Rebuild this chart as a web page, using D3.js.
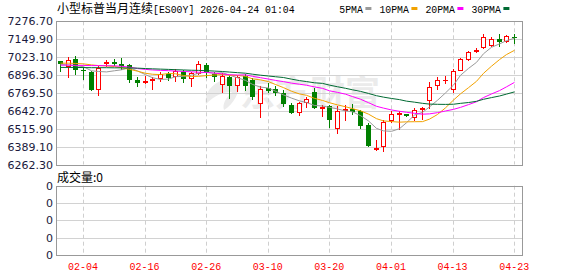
<!DOCTYPE html>
<html><head><meta charset="utf-8">
<script src="https://cdn.jsdelivr.net/npm/d3@7"></script>
<style>html,body{margin:0;padding:0;background:#fff;overflow:hidden}</style>
</head><body><svg id="c" width="578" height="276"></svg>
<script>
const dates=["01-30","02-02","02-03","02-04","02-05","02-06","02-09","02-10","02-11","02-12","02-13","02-16","02-17","02-18","02-19","02-20","02-23","02-24","02-25","02-26","02-27","03-02","03-03","03-04","03-05","03-06","03-09","03-10","03-11","03-12","03-13","03-16","03-17","03-18","03-19","03-20","03-23","03-24","03-25","03-26","03-27","03-30","03-31","04-01","04-02","04-03","04-06","04-07","04-08","04-09","04-10","04-13","04-14","04-15","04-16","04-17","04-20","04-21","04-22","04-23"];
const openV=[6994.9,6954.8,7006.9,6935,6919.6,6792.8,6971.7,6985.8,6973.8,6966.8,6861.1,6849,6856.2,6870.3,6901.2,6884.4,6917.5,6866,6906.9,6966.8,6906.9,6825.9,6884.4,6816.7,6889.3,6861.1,6689.9,6801.2,6795.6,6767.4,6685,6626.5,6701.2,6778.7,6661.8,6678,6516,6639.2,6653.3,6637.8,6544.1,6371.5,6389.1,6567.4,6621.6,6619.5,6589.9,6653.3,6715.3,6818.8,6859,6787.1,6926.6,7002,7061.9,7084.4,7102.7,7154.8,7130.9,7166];
const highV=[6998,7021,7030.2,6950,6928,6959.7,7005.5,7009,7014,6977.3,6878.7,6889,6884.4,6921,6917.5,6938.6,6931.5,6921,6995,6978.7,6919.6,6908.3,6896.3,6892.8,6906.9,6873.1,6816.7,6842.1,6818.8,6788.5,6697,6708.3,6739.3,6802.6,6685,6685,6678,6681.5,6688.5,6649.8,6556.1,6438.5,6575.8,6637.8,6639.2,6621.6,6661.8,6673,6849.1,6880.1,6889.3,6938.6,7014,7067.5,7090,7190.1,7166.1,7185.1,7178,7185.1];
const lowV=[6919.6,6873.1,6896.3,6858,6783.6,6748.4,6952.7,6959.7,6931.5,6842.1,6813.9,6833,6790.7,6847,6850.5,6847,6840,6811.8,6892.8,6873.1,6849,6771.6,6725.2,6778.7,6783.6,6716.7,6589.9,6767.4,6748.4,6673,6621.6,6607.5,6663.9,6656.8,6600.5,6520.9,6478.6,6568.8,6614.6,6514,6387,6357.4,6353.9,6556.1,6504,6600.5,6572.3,6579.3,6656.8,6790.7,6833,6771.6,6922.4,6994.9,7051.3,7077.4,7093.6,7091.4,7123.8,7114.7];
const closeV=[6971.7,7004.1,6935.1,6928,6790.7,6949.2,6987.9,6975.9,6961.8,6861.1,6840,6854,6868.1,6901.2,6873.1,6925.9,6864.6,6908.3,6973.8,6910.4,6882.2,6889.3,6818.8,6882.2,6818.8,6739.3,6795.6,6783.6,6769.5,6688.5,6626.5,6697,6725.2,6666,6668.8,6579.3,6640.6,6653.3,6635.7,6532.2,6392.7,6376.5,6565.3,6619.5,6626.5,6602.6,6649.8,6659,6813.9,6861.1,6863.2,6926.6,7006.9,7056.2,7076,7168.9,7154.8,7126.7,7171,7161.9];
const ma5=[6970,6968,6962,6955,6925.9,6921.4,6918.2,6926.3,6933.1,6947.2,6925.3,6898.6,6877.0,6864.9,6867.3,6884.5,6886.6,6894.6,6909.1,6916.6,6907.9,6912.8,6894.9,6876.6,6858.3,6829.7,6810.9,6803.9,6781.4,6755.3,6732.7,6713.0,6701.3,6680.6,6676.7,6667.3,6656.0,6641.6,6635.5,6608.2,6570.9,6518.1,6500.5,6497.2,6516.1,6558.1,6612.7,6631.5,6670.4,6717.3,6769.4,6824.8,6894.3,6942.8,6985.8,7046.9,7092.6,7116.5,7139.5,7156.7];
const ma10=[6980,6980,6978,6975,6968,6963,6961,6956,6948,6936.6,6923.4,6908.4,6901.7,6899.0,6907.2,6904.9,6892.6,6885.8,6887.0,6891.9,6896.2,6899.7,6894.8,6892.9,6887.4,6868.8,6861.9,6849.4,6829.0,6806.8,6781.2,6762.0,6752.6,6731.0,6716.0,6700.0,6684.5,6671.5,6658.1,6642.5,6619.1,6587.0,6571.0,6566.4,6562.2,6564.5,6565.4,6566.0,6583.8,6616.7,6663.7,6718.8,6762.9,6806.6,6851.5,6908.2,6958.7,7005.4,7041.1,7071.2];
const ma20=[6966,6966,6965,6964,6963,6963,6962,6961,6958,6952,6942,6936,6932,6929,6927,6924,6921,6919,6916,6914.3,6909.8,6904.1,6898.3,6896.0,6897.3,6886.9,6877.3,6867.6,6858.0,6849.4,6838.7,6830.9,6823.7,6812.0,6801.7,6784.4,6773.2,6760.5,6743.6,6724.7,6700.2,6674.5,6661.8,6648.7,6639.1,6632.3,6625.0,6618.8,6621.0,6629.6,6641.4,6652.9,6667.0,6686.5,6706.9,6736.4,6762.1,6785.7,6812.5,6844.0];
const ma30=[6950,6950,6950,6949,6948,6948,6948,6947,6947,6946,6945,6942,6940,6938,6936,6934,6932,6930,6929,6927,6924,6921,6917,6913,6909,6902,6895,6889,6884,6878.4,6866.9,6856.7,6849.7,6841.0,6836.9,6824.6,6813.0,6802.2,6791.4,6780.4,6765.5,6749.6,6739.5,6730.1,6721.9,6711.1,6703.9,6695.6,6690.3,6688.7,6688.0,6689.3,6695.5,6701.3,6709.9,6724.2,6736.2,6747.6,6761.0,6776.8];
const priceTicks=[7276.70,7149.90,7023.10,6896.30,6769.50,6642.70,6515.90,6389.10,6262.30];
const priceLabels=["7276.70","7149.90","7023.10","6896.30","6769.50","6642.70","6515.90","6389.10","6262.30"];
const dateTicks=["02-04","02-16","02-26","03-10","03-20","04-01","04-13","04-23"];
const volTicks=[0,1,2,3,4];
const volLabels=["0","0","0","0","0"];
const legendNames=["5PMA","10PMA","20PMA","30PMA"];
const titleCn="小型标普当月连续";
const titleLatin="[ES00Y] 2026-04-24 01:04";
const volTitle="成交量:0";
const watermark="东方财富";

const maSeries=[ma5,ma10,ma20,ma30];
const maColors=["#9a9a9a","#f2a200","#ff00ff","#006a32"];
const UP="#ff0000", DOWN="#008000";

const svg=d3.select("#c");
const L=56,R=522,T=21.3,B=164.5,VT=185.7,VB=255;
const x=d3.scaleBand().domain(dates).range([L,L+7.7*dates.length]);
const bw=x.bandwidth();
const cxOf=d=>Math.round(x(d)+bw/2);
const y=d3.scaleLinear().domain([6262.3,7276.7]).range([B,T]);
const yv=d3.scaleLinear().domain([0,4]).range([VB,VT]);
const px=v=>Math.round(v)+0.5;

svg.append("rect").attr("width",578).attr("height",276).attr("fill","#fff");

// watermark
const wm=svg.append("g").attr("fill","#ebebeb");
wm.append("path").attr("d","M232,78 C214,80 204,92 206,104 C214,96 222,92 232,92 C226,98 222,104 224,110 C234,104 240,92 240,80 Z");
wm.append("text").attr("x",240).attr("y",106).attr("font-family","Noto Sans CJK SC").attr("font-weight","bold")
  .attr("font-size",35).text(watermark);

// grids
const g=svg.append("g");
g.selectAll(".hg").data(priceTicks.slice(1,-1)).join("line")
  .attr("x1",L).attr("x2",R).attr("y1",d=>px(y(d))).attr("y2",d=>px(y(d)))
  .attr("stroke","#d2d2d2");
g.selectAll(".vg").data(volTicks.slice(1,-1)).join("line")
  .attr("x1",L).attr("x2",R).attr("y1",d=>px(yv(d))).attr("y2",d=>px(yv(d)))
  .attr("stroke","#d2d2d2");
[[T,B],[VT,VB]].forEach(([a,b])=>{
  g.append("g").selectAll("line").data(dateTicks).join("line")
   .attr("x1",d=>cxOf(d)+0.5).attr("x2",d=>cxOf(d)+0.5).attr("y1",a).attr("y2",b)
   .attr("stroke","#cfcfcf").attr("stroke-dasharray","4,3");
});

// candles
const cg=svg.append("g");
dates.forEach((d,i)=>{
  const o=openV[i],c=closeV[i],h=highV[i],l=lowV[i];
  const cx=cxOf(d);
  const up=c>=o;
  const col=up?UP:DOWN;
  const yt=Math.round(y(Math.max(o,c))), yb=Math.round(y(Math.min(o,c)));
  const yh=Math.round(y(h)), yl=Math.round(y(l));
  if(yb-yt<1){
    cg.append("line").attr("x1",cx+0.5).attr("x2",cx+0.5).attr("y1",yh).attr("y2",yl).attr("stroke",col);
    cg.append("line").attr("x1",cx-2).attr("x2",cx+3).attr("y1",yt+0.5).attr("y2",yt+0.5).attr("stroke",col);
    return;
  }
  if(up){
    cg.append("line").attr("x1",cx+0.5).attr("x2",cx+0.5).attr("y1",yh).attr("y2",yt).attr("stroke",col);
    cg.append("line").attr("x1",cx+0.5).attr("x2",cx+0.5).attr("y1",yb).attr("y2",yl).attr("stroke",col);
    cg.append("rect").attr("x",cx-1.5).attr("y",yt+0.5).attr("width",4).attr("height",Math.max(1,yb-yt-1))
      .attr("fill","#fff").attr("stroke",col);
  } else {
    cg.append("line").attr("x1",cx+0.5).attr("x2",cx+0.5).attr("y1",yh).attr("y2",yl).attr("stroke",col);
    cg.append("rect").attr("x",cx-2).attr("y",yt).attr("width",5).attr("height",Math.max(1,yb-yt))
      .attr("fill",col);
  }
});

// MA lines
const line=d3.line().x((v,i)=>cxOf(dates[i])+0.5).y(v=>y(v));
maSeries.forEach((s,k)=>{
  svg.append("path").datum(s).attr("d",line).attr("fill","none").attr("stroke",maColors[k]).attr("stroke-width",1);
});

// frames
svg.append("rect").attr("x",L+0.5).attr("y",px(T)).attr("width",R-L).attr("height",Math.round(B)-Math.round(T))
  .attr("fill","none").attr("stroke","#999");
svg.append("rect").attr("x",L+0.5).attr("y",px(VT)).attr("width",R-L).attr("height",Math.round(VB)-Math.round(VT))
  .attr("fill","none").attr("stroke","#999");

// axes
const yAxis=d3.axisLeft(y).tickValues(priceTicks).tickFormat((d,i)=>priceLabels[i]).tickSize(0).tickPadding(3);
const ya=svg.append("g").attr("transform",`translate(${L},0)`).call(yAxis);
ya.select(".domain").remove();
ya.selectAll("text").attr("font-family","DejaVu Sans").attr("font-size",11).attr("fill","#1a1a3c");

const vAxis=d3.axisLeft(yv).tickValues(volTicks).tickFormat((d,i)=>volLabels[i]).tickSize(0).tickPadding(3);
const va=svg.append("g").attr("transform",`translate(${L},0)`).call(vAxis);
va.select(".domain").remove();
va.selectAll("text").attr("font-family","DejaVu Sans").attr("font-size",11).attr("fill","#1a1a3c");

const xAxis=d3.axisBottom(x).tickValues(dateTicks).tickSize(0).tickPadding(7);
const xa=svg.append("g").attr("transform",`translate(0,${VB})`).call(xAxis);
xa.select(".domain").remove();
xa.selectAll("text").attr("font-family","Liberation Mono").attr("font-size",11).attr("fill","#ff0000")
  .attr("textLength",30).attr("lengthAdjust","spacingAndGlyphs");

// title
svg.append("text").attr("x",57).attr("y",12.5).attr("font-family","Noto Sans CJK SC").attr("font-size",12)
  .attr("fill","#000").text(titleCn);
svg.append("text").attr("x",153).attr("y",12.5).attr("font-family","Liberation Mono").attr("font-size",11.5)
  .attr("fill","#000").attr("textLength",titleLatin.length*5.9).attr("lengthAdjust","spacingAndGlyphs").text(titleLatin);

// legend
let lx=339.3;
legendNames.forEach((n,k)=>{
  const w=n.length*5.9;
  svg.append("text").attr("x",lx).attr("y",12.5).attr("font-family","Liberation Mono").attr("font-size",11.5)
    .attr("fill","#000").attr("textLength",w).attr("lengthAdjust","spacingAndGlyphs").text(n);
  svg.append("rect").attr("x",lx+w+2.5).attr("y",7).attr("width",6).attr("height",3).attr("fill",maColors[k]);
  lx+=w+2.5+6+8;
});

// volume title
svg.append("text").attr("x",57).attr("y",182).attr("font-family","Noto Sans CJK SC").attr("font-size",12)
  .attr("fill","#000").text(volTitle);
</script></body></html>
